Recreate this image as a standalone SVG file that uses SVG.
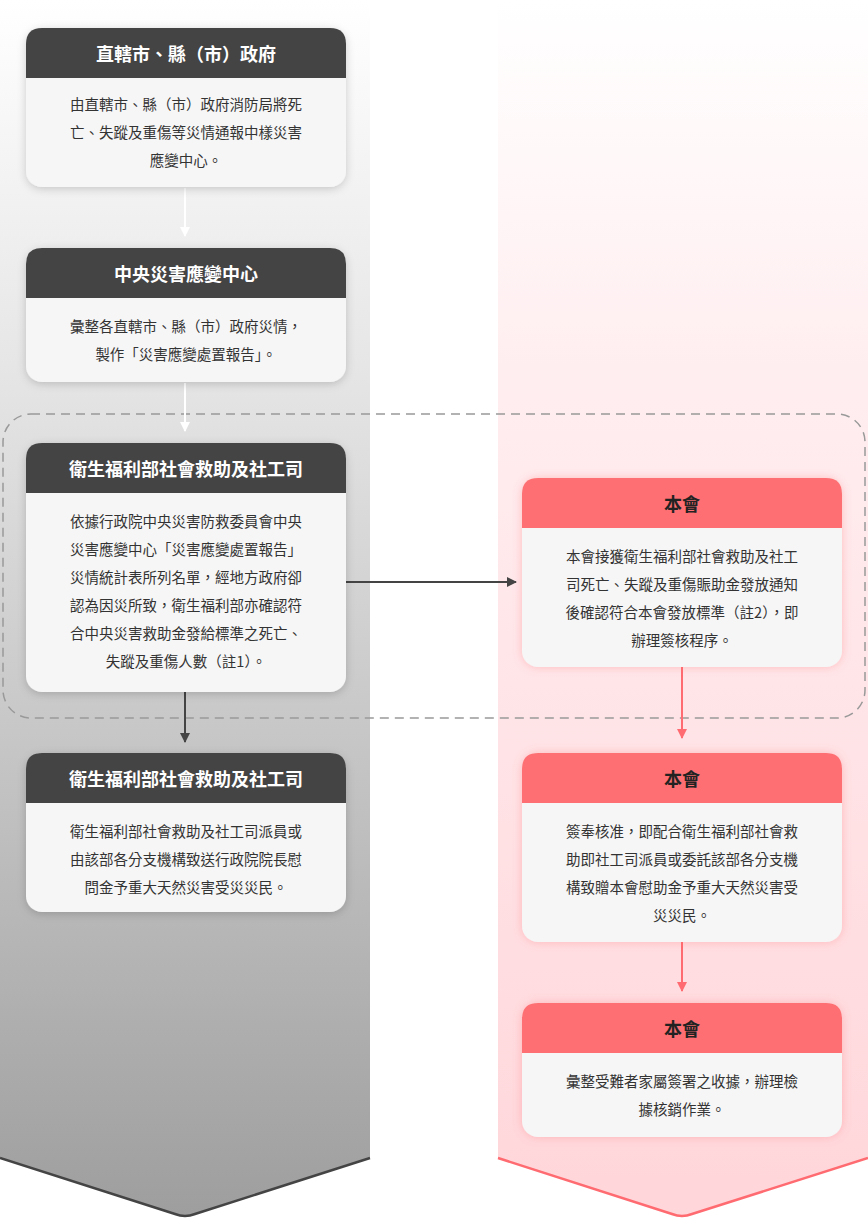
<svg xmlns="http://www.w3.org/2000/svg" width="868" height="1218" viewBox="0 0 868 1218">
<defs>
<linearGradient id="gl" x1="0" y1="0" x2="0" y2="1"><stop offset="0" stop-color="#ffffff"/><stop offset="0.3" stop-color="#e6e6e6"/><stop offset="1" stop-color="#9e9e9e"/></linearGradient>
<linearGradient id="gr" x1="0" y1="0" x2="0" y2="1"><stop offset="0" stop-color="#ffffff"/><stop offset="0.3" stop-color="#ffeef0"/><stop offset="1" stop-color="#ffd6da"/></linearGradient>
<filter id="sh" x="-20%" y="-20%" width="140%" height="140%"><feDropShadow dx="0" dy="2" stdDeviation="4" flood-color="#000" flood-opacity="0.18"/></filter>
<filter id="shr" x="-20%" y="-20%" width="140%" height="140%"><feDropShadow dx="0" dy="0" stdDeviation="5" flood-color="#ff6b70" flood-opacity="0.35"/></filter>
<marker id="aw" markerWidth="10" markerHeight="10" refX="9" refY="5" orient="auto" markerUnits="userSpaceOnUse"><path d="M0,0 L10,5 L0,10 z" fill="#ffffff"/></marker>
<marker id="ad" markerWidth="10" markerHeight="10" refX="9" refY="5" orient="auto" markerUnits="userSpaceOnUse"><path d="M0,0 L10,5 L0,10 z" fill="#444"/></marker>
<marker id="ar" markerWidth="10" markerHeight="10" refX="9" refY="5" orient="auto" markerUnits="userSpaceOnUse"><path d="M0,0 L10,5 L0,10 z" fill="#ff6b70"/></marker>
<clipPath id="cl"><path d="M0,0 H370 V1158 L195,1214 Q185,1218 175,1214 L0,1158 Z"/></clipPath>
</defs>
<style>
text{font-family:"Noto Sans CJK TC","Noto Sans CJK SC",sans-serif;text-anchor:middle}
.h{font-size:18px;font-weight:bold;fill:#fff}
.hr{font-size:18px;font-weight:bold;fill:#222}
.b{font-size:14.5px;fill:#333}
.body{fill:#f6f6f6}
.hd{fill:#444}
.hdr{fill:#fd6f72}
</style>
<path d="M0,0 H370 V1158 L195,1214 Q185,1218 175,1214 L0,1158 Z" fill="url(#gl)"/>
<path d="M0,1158 L175,1214 Q185,1218 195,1214 L370,1158" fill="none" stroke="#444" stroke-width="2.5"/>
<path d="M498,0 H868 V1158 L692,1214 Q682,1218 672,1214 L498,1158 Z" fill="url(#gr)"/>
<path d="M498,1158 L672,1214 Q682,1218 692,1214 L868,1158" fill="none" stroke="#ff6b70" stroke-width="2.5"/>
<rect x="3" y="414" width="862" height="304" rx="28" fill="none" stroke="#999" stroke-width="1.5" stroke-dasharray="9,6"/>
<g id="connectors">
<line x1="185" y1="188" x2="185" y2="236" stroke="#fff" stroke-width="2" marker-end="url(#aw)"/>
<line x1="185" y1="383" x2="185" y2="431" stroke="#fff" stroke-width="2" marker-end="url(#aw)"/>
<line x1="185" y1="692" x2="185" y2="742" stroke="#444" stroke-width="2" marker-end="url(#ad)"/>
<line x1="346" y1="582" x2="516" y2="582" stroke="#444" stroke-width="2" marker-end="url(#ad)"/>
<line x1="682" y1="667" x2="682" y2="738" stroke="#ff6b70" stroke-width="2" marker-end="url(#ar)"/>
<line x1="682" y1="942" x2="682" y2="991" stroke="#ff6b70" stroke-width="2" marker-end="url(#ar)"/>
</g>
<g id="n1"><rect class="body" x="26" y="28" width="320" height="159" rx="16" filter="url(#sh)"/><path class="hd" d="M26,78 V44 Q26,28 42,28 H330 Q346,28 346,44 V78 Z"/>
<text class="h" x="186" y="61">直轄市、縣（市）政府</text>
<text class="b" x="186" y="110">由直轄市、縣（市）政府消防局將死</text><text class="b" x="186" y="138">亡、失蹤及重傷等災情通報中樣災害</text><text class="b" x="186" y="166">應變中心。</text></g>
<g id="n2"><rect class="body" x="26" y="248" width="320" height="134" rx="16" filter="url(#sh)"/><path class="hd" d="M26,298 V264 Q26,248 42,248 H330 Q346,248 346,264 V298 Z"/>
<text class="h" x="186" y="281">中央災害應變中心</text>
<text class="b" x="186" y="332">彙整各直轄市、縣（市）政府災情，</text><text class="b" x="186" y="360">製作「災害應變處置報告」。</text></g>
<g id="n3"><rect class="body" x="26" y="443" width="320" height="249" rx="16" filter="url(#sh)"/><path class="hd" d="M26,493 V459 Q26,443 42,443 H330 Q346,443 346,459 V493 Z"/>
<text class="h" x="186" y="476">衛生福利部社會救助及社工司</text>
<text class="b" x="186" y="527">依據行政院中央災害防救委員會中央</text><text class="b" x="186" y="555">災害應變中心「災害應變處置報告」</text><text class="b" x="186" y="583">災情統計表所列名單，經地方政府卻</text><text class="b" x="186" y="611">認為因災所致，衛生福利部亦確認符</text><text class="b" x="186" y="639">合中央災害救助金發給標準之死亡、</text><text class="b" x="186" y="667">失蹤及重傷人數（註1）。</text></g>
<g id="n4"><rect class="body" x="26" y="753" width="320" height="159" rx="16" filter="url(#sh)"/><path class="hd" d="M26,803 V769 Q26,753 42,753 H330 Q346,753 346,769 V803 Z"/>
<text class="h" x="186" y="786">衛生福利部社會救助及社工司</text>
<text class="b" x="186" y="837">衛生福利部社會救助及社工司派員或</text><text class="b" x="186" y="865">由該部各分支機構致送行政院院長慰</text><text class="b" x="186" y="893">問金予重大天然災害受災災民。</text></g>
<g id="n5"><rect class="body" x="522" y="478" width="320" height="189" rx="16" filter="url(#shr)"/><path class="hdr" d="M522,528 V494 Q522,478 538,478 H826 Q842,478 842,494 V528 Z"/>
<text class="hr" x="682" y="511">本會</text>
<text class="b" x="682" y="562">本會接獲衛生福利部社會救助及社工</text><text class="b" x="682" y="590">司死亡、失蹤及重傷賑助金發放通知</text><text class="b" x="682" y="618">後確認符合本會發放標準（註2），即</text><text class="b" x="682" y="646">辦理簽核程序。</text></g>
<g id="n6"><rect class="body" x="522" y="753" width="320" height="189" rx="16" filter="url(#shr)"/><path class="hdr" d="M522,803 V769 Q522,753 538,753 H826 Q842,753 842,769 V803 Z"/>
<text class="hr" x="682" y="786">本會</text>
<text class="b" x="682" y="837">簽奉核准，即配合衛生福利部社會救</text><text class="b" x="682" y="865">助即社工司派員或委託該部各分支機</text><text class="b" x="682" y="893">構致贈本會慰助金予重大天然災害受</text><text class="b" x="682" y="921">災災民。</text></g>
<g id="n7"><rect class="body" x="522" y="1003" width="320" height="134" rx="16" filter="url(#shr)"/><path class="hdr" d="M522,1053 V1019 Q522,1003 538,1003 H826 Q842,1003 842,1019 V1053 Z"/>
<text class="hr" x="682" y="1036">本會</text>
<text class="b" x="682" y="1087">彙整受難者家屬簽署之收據，辦理檢</text><text class="b" x="682" y="1115">據核銷作業。</text></g>
</svg>
